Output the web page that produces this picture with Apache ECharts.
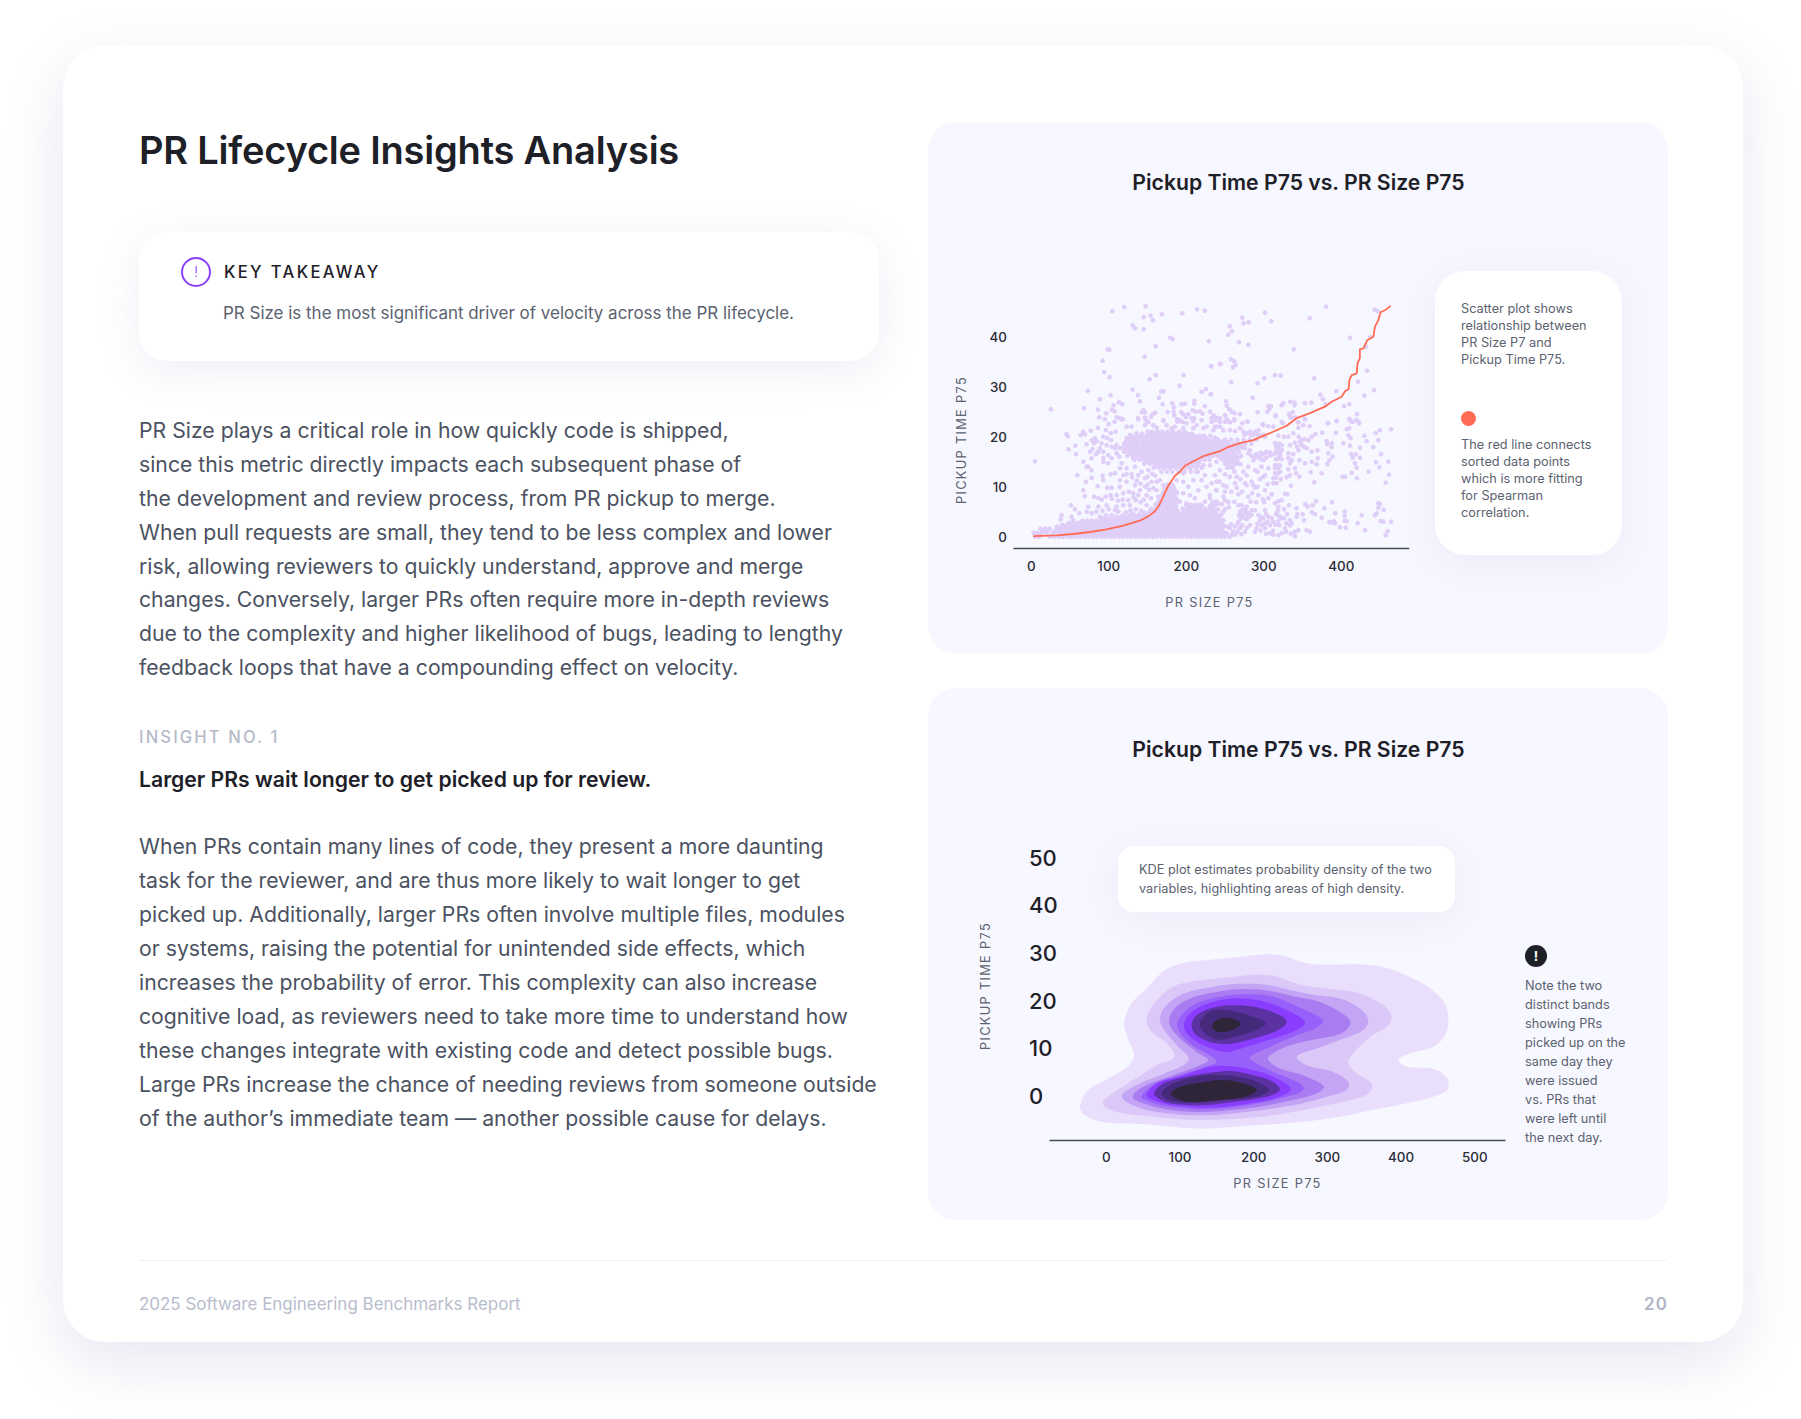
<!DOCTYPE html>
<html><head><meta charset="utf-8"><title>PR Lifecycle Insights Analysis</title>
<script src="https://cdn.jsdelivr.net/npm/echarts@6/dist/echarts.min.js"></script>
<style>
html,body{margin:0;padding:0;background:#fff;width:1801px;height:1419px;overflow:hidden;font-family:Inter,"Noto Sans",sans-serif;-webkit-font-smoothing:antialiased}
.a{position:absolute;white-space:nowrap}
#card{left:63px;top:45px;width:1680px;height:1297px;background:#fff;border-radius:42px;box-shadow:0 20px 60px rgba(84,96,160,.15)}
.panel{position:absolute;left:928px;width:740px;height:532px;background:#f7f7ff;border-radius:28px}
.callout{position:absolute;background:#fff;box-shadow:0 8px 40px rgba(90,100,170,.08)}
.body{color:#4b5261;font-size:21.23px;line-height:33.95px;left:139px}
.small{color:#5b6270;font-size:12.75px;line-height:17px}
.axt{color:#5b6270;font-size:12.8px;letter-spacing:1.3px;font-weight:400;transform:translate(-50%,-50%)}
.ptitle{color:#1e2028;font-size:21.2px;font-weight:600;transform:translate(-50%,-50%);left:1298.5px}
#chart{position:absolute;left:0;top:0;width:1801px;height:1419px;pointer-events:none}
</style></head><body>
<div id="card" class="a"></div>
<div class="a" style="left:139px;top:126px;font-size:38px;line-height:48px;font-weight:600;color:#1e2028;letter-spacing:-.2px">PR Lifecycle Insights Analysis</div>
<div class="a" style="left:139px;top:232px;width:740px;height:129px;background:#fff;border-radius:28px;box-shadow:0 10px 44px rgba(90,100,170,.10)"></div>
<div class="a" style="left:181px;top:257px;width:26px;height:26px;border:2px solid #8b3ffd;border-radius:50%;color:#8b3ffd;font-size:15px;font-weight:300;line-height:26px;text-align:center">!</div>
<div class="a" style="left:224px;top:262px;font-size:16.6px;line-height:21px;font-weight:500;color:#1e2028;letter-spacing:2.35px">KEY TAKEAWAY</div>
<div class="a" style="left:223px;top:302px;font-size:16.97px;line-height:23px;color:#5b6270">PR Size is the most significant driver of velocity across the PR lifecycle.</div>
<div class="a body" style="top:413.7px">PR Size plays a critical role in how quickly code is shipped,<br>since this metric directly impacts each subsequent phase of<br>the development and review process, from PR pickup to merge.<br>When pull requests are small, they tend to be less complex and lower<br>risk, allowing reviewers to quickly understand, approve and merge<br>changes. Conversely, larger PRs often require more in-depth reviews<br>due to the complexity and higher likelihood of bugs, leading to lengthy<br>feedback loops that have a compounding effect on velocity.</div>
<div class="a" style="left:139px;top:726px;font-size:16.6px;line-height:22px;font-weight:500;color:#b6bac9;letter-spacing:2.12px">INSIGHT NO. 1</div>
<div class="a" style="left:139px;top:765px;font-size:21.2px;line-height:28px;font-weight:600;color:#1e2028">Larger PRs wait longer to get picked up for review.</div>
<div class="a body" style="top:830.2px">When PRs contain many lines of code, they present a more daunting<br>task for the reviewer, and are thus more likely to wait longer to get<br>picked up. Additionally, larger PRs often involve multiple files, modules<br>or systems, raising the potential for unintended side effects, which<br>increases the probability of error. This complexity can also increase<br>cognitive load, as reviewers need to take more time to understand how<br>these changes integrate with existing code and detect possible bugs.<br>Large PRs increase the chance of needing reviews from someone outside<br>of the author’s immediate team — another possible cause for delays.</div>
<div class="a" style="left:139px;top:1259.5px;width:1527px;height:1px;background:#eeeef6"></div>
<div class="a" style="left:139px;top:1292.5px;font-size:16.95px;line-height:23px;color:#b8bdcd">2025 Software Engineering Benchmarks Report</div>
<div class="a" style="right:133px;top:1292.5px;font-size:16.9px;line-height:23px;font-weight:600;color:#b0b5c7;letter-spacing:1.2px">20</div>

<div class="panel" style="top:122px"></div>
<div class="panel" style="top:688px"></div>
<div class="a ptitle" style="top:182.3px">Pickup Time P75 vs. PR Size P75</div>
<div class="a ptitle" style="top:748.5px">Pickup Time P75 vs. PR Size P75</div>

<div class="callout" style="left:1435px;top:271px;width:187px;height:284px;border-radius:30px"></div>
<div class="a small" style="left:1461px;top:300px">Scatter plot shows<br>relationship between<br>PR Size P7 and<br>Pickup Time P75.</div>
<div class="a" style="left:1461px;top:411px;width:15px;height:15px;border-radius:50%;background:#ff6b55"></div>
<div class="a small" style="left:1461px;top:436px">The red line connects<br>sorted data points<br>which is more fitting<br>for Spearman<br>correlation.</div>

<div class="callout" style="left:1118px;top:846px;width:337px;height:66px;border-radius:16px"></div>
<div class="a small" style="left:1139px;top:860px;line-height:19.4px">KDE plot estimates probability density of the two<br>variables, highlighting areas of high density.</div>
<div class="a" style="left:1525px;top:944.5px;width:22px;height:22px;border-radius:50%;background:#1e2028;color:#fff;font-size:13px;font-weight:700;line-height:22px;text-align:center">!</div>
<div class="a small" style="left:1525px;top:976px;line-height:19.05px">Note the two<br>distinct bands<br>showing PRs<br>picked up on the<br>same day they<br>were issued<br>vs. PRs that<br>were left until<br>the next day.</div>

<div class="a axt" style="left:1209.5px;top:602px">PR SIZE P75</div>
<div class="a axt" style="left:961px;top:439.5px;transform:translate(-50%,-50%) rotate(-90deg)">PICKUP TIME P75</div>
<div class="a axt" style="left:1277.5px;top:1182.5px">PR SIZE P75</div>
<div class="a axt" style="left:984.5px;top:986px;transform:translate(-50%,-50%) rotate(-90deg)">PICKUP TIME P75</div>
<div id="chart"></div>
<script>
// Scatter x ticks / y ticks
const scatterXTicks=[0,100,200,300,400];
const scatterYTicks=[0,10,20,30,40];
const kdeXTicks=[0,100,200,300,400,500];
const kdeYTicks=[0,10,20,30,40,50];

// Red line through sorted points [PR size, pickup time]
const sortedLine=[[2.6,.1],[32.7,.27],[54,.54],[75.8,.94],[97,1.47],[118.7,2.2],[140,3.2],[151,4.07],[159.6,5.1],[165,6.3],[170.3,8],[176.8,10.2],[185.4,12.2],[191.9,13],[198.3,14.2],[209,15.1],[222,16.1],[243.5,17.1],[252,17.8],[269.3,18.7],[286.5,19.3],[308,20.7],[329.5,22.2],[342.4,23.7],[359.6,24.7],[379,26],[387.6,27],[394,27.5],[400.5,28],[404.8,29.1],[409.5,29.5],[410.4,31.3],[413.4,32.3],[419.8,32.6],[421,34.7],[424,35.7],[424,37.5],[428.4,37.6],[433.6,39.3],[441.4,40],[443.5,42],[447.8,43.3],[450.8,44.9],[458.6,45.5],[463.7,46.2]];

// Sparse scatter points read by region
const pointsUpperLeft=[[25.4,25.5],[68,25.7],[73,29.2],[88.6,27.5],[86,25.4],[102.4,28.3],[92,35.2],[94.2,32.9],[101,31.9],[98.5,37.5],[100.6,37.4],[104.5,45.1],[120,45.9],[147.5,46.1],[145,43.9],[154,44.2],[157,43.3],[130.8,42.3],[133.8,41.7],[145,41.5],[168.6,44.5],[179.4,39.8],[182.4,39.5],[194.8,44.7],[213.8,45.5],[224,45.2],[229.2,39.1],[232.3,34.1],[243.4,34.6],[160.4,38.1],[146.2,36],[152.7,31.5],[160.4,32.3],[196.6,32.3],[191.4,30.2],[130.8,29.4],[137.6,28.3],[140.2,27.1],[164.7,27.8],[167.7,29],[170.8,29.1],[169.5,26.5],[182,26.7],[184,25.9],[194,26.5],[198.3,26.6],[210.3,27.2],[210.3,26.6],[219.8,29],[225.4,29.5],[231.8,28.5],[224,26.1],[113,26.9],[117.4,26.5],[106.2,26.3],[104,25.4],[107.5,25.1],[96.8,24.7],[87.7,23.9],[95,23.5],[110.5,23.9],[116.6,23.5],[118.3,23.5],[107.5,23],[99.8,22.5],[137.6,23.7],[145,25.3],[142.4,24.9],[146.7,24.9],[147,23.7],[148.8,23.2],[154.4,24],[156.6,24.5],[160,24.8],[170.8,23.2],[176,24.9],[183.7,25],[184.5,24.3],[188.4,23.5],[193.5,24.9],[196,24.5],[202.6,24.5],[199.6,23.9],[188.4,23],[195.3,22.9],[208.2,25.3],[212,25],[217.6,25.1],[221,24.6],[230.5,25],[235.7,24.2],[239,23.7],[234,23.1],[243.4,23],[208.6,23.1],[210,23.7]];
const pointsUpperRight=[[301.6,44.8],[380.3,46],[272.3,43.8],[274,42.7],[280.5,42.9],[309.7,43.1],[359.2,43.7],[256,42.1],[259,41.1],[254.3,40.4],[268,38.9],[280,38.4],[338.6,37.5],[411.2,39.8],[437.5,39.9],[431.9,38],[443,45.4],[447,45.1],[257.7,35.5],[262,35.1],[263.7,34.4],[260.3,33.9],[244.4,34.5],[231.9,34.1],[300.7,31.7],[292,30.7],[314.5,32.3],[321.8,32.2],[365.2,31.7],[258.1,30.9],[421.6,31],[433.2,33.2],[442.2,29.3],[429.7,28.2],[393.6,29.1],[373,28.4],[376.4,27.5],[285.7,27.8],[231.9,28.5],[251.2,27.1],[252.1,26.2],[255.5,25.5],[258.6,25],[269.3,24.5],[262.4,24.7],[292.1,24.9],[305.9,26.1],[309.3,26.1],[307.2,25.5],[304.6,25],[315.3,24.1],[334.3,27],[339.8,26.8],[339.8,26.3],[325.2,26.7],[323.1,26.3],[353.2,26.7],[361.4,26.8],[379.9,26.5],[403.5,26.1],[410.4,26.5],[420.3,24.5],[332.5,24.5],[337.3,24.9],[335.1,23.8],[340.7,23.9],[353.2,23.6],[344.1,22.9],[262,23.5],[272.3,22.7],[278.8,23],[256.4,22.9],[298.6,22.5],[324.8,22.7],[382.9,22.7],[394,23.1],[410.4,23.5],[414.7,23],[419.8,23.3],[422.9,22.7],[239.2,23.7],[243.5,23.7],[234.9,24.3],[250,24.3],[243.5,23],[232.8,23.7],[252.1,23.5]];
const pointsLowerLeft=[[4.7,15.1],[45.6,20.5],[47,20.1],[48.2,17.5],[56.8,18.2],[57.6,16.5],[59.4,12.3],[63.7,20.3],[67,21],[69.3,20.5],[76.6,21.2],[71.4,18.5],[78.3,19.3],[80.9,18.7],[84.3,19.1],[86,21.8],[92.9,20],[96.3,21.3],[102.4,20.7],[108.8,21],[98,19.7],[103.2,19.3],[88.6,17.7],[79.1,17.5],[75.7,17],[67.1,15],[71.4,14],[77.8,15.7],[83.4,16.5],[92.9,15.8],[99.4,16.3],[99.4,14.7],[110.1,16.7],[113.5,16],[116.6,14.7],[114.4,13.7],[108,12.7],[102.4,12.5],[92,12.2],[92.9,11.3],[77.8,11.8],[70.5,11],[67,9.3],[69,8.1],[85.6,10.1],[98,9.8],[103.6,9.8],[80.9,8],[86.5,7.7],[102.4,8.3],[97.2,6.3],[86.5,6],[73.5,6],[71.4,5],[77.8,4.7],[51.2,6.3],[56.3,5.5],[61.9,4.7],[39.1,4.3],[37.8,3.5],[52,4],[54.2,3.3],[88.6,4],[96.3,4.3],[110.1,6],[118.7,6.3],[127.3,6.3],[135,7.3],[141,6.9],[148.8,6.3],[131.6,8.7],[140.2,9.3],[148.8,8.3],[154.4,7.7],[161.7,9.3],[163.9,8],[157.4,9.7],[170.3,10.3],[166,11.3],[155.3,11],[146.7,11.7],[138,12.3],[129.5,12.5],[123,12.5],[142.4,13],[133.8,14],[123,13.7],[151,13.3],[159.6,14.7],[170.3,14],[131.6,15.7],[146.7,15],[114.4,10],[118.7,8.7],[125.2,7.3],[110.1,8.3],[123,11],[133.8,10.3],[138,8.3],[114.4,11.3],[118.7,12.3],[174.6,14.3],[118.7,4.3],[112.3,5],[103.6,4.3],[196,11],[202.6,10],[209,11.3],[215.5,9.3],[196,8.7],[204.7,8.3],[211.2,7.7],[219.8,11.3],[230.5,8.3],[239,9.3],[224,12.3],[237,12.3],[226.2,10],[232.7,10.7],[224,7],[219.8,6.2],[230.5,5.7],[237,7],[200.4,6.7],[187.5,8.7],[191.8,7],[239,11],[213.3,13],[204.7,13.7],[230.5,14.3],[243.4,13.3],[239,15],[222,14.3],[196,12.7],[187.5,11.3],[114.4,23.7],[123,22],[129.5,22],[138,23.5],[146.7,23.8],[151,22.9],[157.4,22.3],[170.3,23.3],[174.6,22.3],[185.4,22],[191.9,23.3],[200.4,22.7],[206.8,23.7],[213.3,22.3],[219.8,23.3],[226.2,22],[232.7,23],[239,22],[146.7,22.3],[161.7,21.8],[181,21.7],[196.1,21.7],[209,21.7],[222,21.7],[234.9,21.3],[127.3,20.3],[135.9,20.7],[123,19.7]];
const pointsLowerRight=[[278.8,23],[299.4,22.3],[305.9,22.1],[312.3,22],[315.3,24.3],[323,23],[333.8,24],[344.6,22.9],[344.6,21.8],[351,22.3],[359.2,22.1],[353.2,23.5],[382.9,22.7],[394,23.2],[393.2,20.8],[375.5,20.8],[366.5,20.5],[361.8,20],[357.5,19.3],[348.9,19.3],[346.7,19],[351.9,18],[355.3,17.7],[361.8,17],[369.1,17.3],[369.5,15.7],[361.8,15],[368.2,14.5],[353.2,14.7],[345.9,15.3],[344.6,17.3],[338.1,16.5],[340.3,13.7],[331.7,13.5],[345.9,12],[341.6,12.7],[333.8,12.3],[329.5,11.9],[335.1,10.2],[360.5,12.9],[374.7,12.7],[365.2,10.9],[381.1,19.1],[382,18.5],[387.6,18.7],[387.6,17.9],[383.3,16.7],[388.9,16],[384.6,15.3],[382,14.5],[402.6,18.7],[411.2,18.2],[407,21.5],[410.4,21.7],[409.1,20.3],[412.1,19.7],[410.4,23.5],[413.4,23],[419.8,23.3],[422.9,22.9],[429.7,20.2],[432.7,19.1],[444.4,20.7],[450,21.3],[464.2,21.5],[447.8,19.3],[441.4,17.9],[424.1,17.8],[413,16.5],[418.6,16.5],[414.7,15.8],[424.1,15.8],[417.7,14.7],[419.8,13.8],[413.4,12.8],[420.3,11.7],[435.3,13],[444.8,14.9],[449.1,13.9],[451.3,16.5],[460.7,15],[461.6,12.4],[457.3,10.8],[401.8,12],[404.8,12],[447.8,6.7],[450,6.5],[447.8,5.8],[454.7,5.4],[443.5,4.3],[445.7,4.7],[426.3,4.3],[450.8,3.1],[454.3,3],[464.2,3],[459.8,1.1],[457.3,.3],[430.6,1.3],[421.1,2.7],[405.6,1.8],[398.3,1.9],[391.9,2.7],[390.6,3.1],[387.6,2.9],[384.6,2.9],[404.4,5],[404.4,4.2],[404.4,3.2],[407,3.1],[392.3,4.7],[388,6.9],[378.1,5.7],[374.7,3.8],[367.4,7.1],[363,6.3],[353.6,6.5],[356.6,6],[362.2,4.9],[366.1,4.5],[350.2,4.5],[351.9,3.3],[343.3,4.5],[342.4,5.7],[342.4,4],[355.3,1.3],[359.6,1],[344.6,1.3],[340.3,1],[340.3,.1],[330.4,8.5],[327.4,8.6],[293,8.3],[301.6,9.3],[310.2,8.5],[300.7,6.9],[290,6.9],[277.9,6],[271.5,6.3],[267.2,6.3],[254.3,6.9],[250,5.5],[255.1,5.9],[252.1,10],[250,9],[247.8,10.3],[238.3,9.3],[262.9,10.7],[265,9.8],[267.2,8.5],[275.8,10.7],[277.9,10.3],[286.5,10.3],[288.7,9.8],[301.6,12.3],[305.9,13.7],[299.4,12],[284.4,11],[273.6,13],[277.9,12.3],[288.7,13.3],[314.5,14.3],[318.8,14.3],[314.5,13.7],[318.8,13.7],[314.5,12.7],[318.8,12.7],[312.3,11.7],[316.6,10.7],[312.3,10.7],[318.8,17.7],[323.1,17.3],[316.6,16.7],[320.9,16.3],[318.8,15.7],[323.1,18.3],[314.5,18.7],[333.8,18.3],[331.7,16.7],[331.7,15.7],[336,15.3],[333.8,14.7],[301.6,16.7],[308,16.9],[297.3,16.3],[293,16],[286.5,15.3],[299.4,15.3],[280,16.7],[282.2,17.3],[275.8,17.7],[269.3,18],[262.9,17.3],[277.9,20.7],[282.2,21],[273.6,21],[288.7,21],[293,21.3],[286.5,20.3],[295.1,20.3],[301.6,20],[318.8,20.2],[326.1,20],[331.7,20],[338.1,20.7],[269.3,21.7],[262.9,21.1],[256.4,21.3],[247.8,21.3],[255.1,23],[262,23.3],[250,23],[239.2,23.3],[243.5,22],[237,22],[318.8,7.1],[323.1,7.3],[314.5,6.7],[305.9,7.7],[332.5,6.3],[326.1,5.5],[318.8,6],[320,4.1],[323.1,3.7],[318.8,3.1],[326.1,3.7],[333.8,3.3],[333.8,2.3],[336,2.7],[320,2.3],[323.1,.7],[318.8,.3],[327.4,1.7],[308,.7],[301.6,1.7],[295.1,3.3],[299.4,3.7],[293,4.3],[301.6,5.3],[305.9,4],[310.2,3.7],[290.8,1.7],[288.7,1],[297.3,2.3],[301.6,2.7],[308,2.3],[280,4.3],[275.8,4.7],[271.5,4.3],[277.9,3.5],[269.3,5],[284.4,5.3],[288.7,5.3],[267.2,3],[262.9,2],[256.4,1.7],[252.1,.7],[260.7,1],[269.3,1.7],[275.8,1],[282.2,2.3],[247.8,5],[239.2,7],[234.9,5.7],[230.6,4.3],[239.2,4.3],[234.9,3],[241.4,2.3],[230.6,2.3],[237,1.3],[243.5,1],[232.8,.7],[239.2,.3],[230.6,7.7],[237,6.3],[235.8,5]];
const pointsClusters=[[82,19.7],[90.7,18.7],[97.2,18.3],[103.7,18],[110,18.3],[86.5,17],[93,17],[108,17.7],[114.4,17.7],[103.7,15.7],[93,15],[73.5,14],[77.8,13.3],[130,11.9],[136,11.2],[141,10.6],[147,10],[152,9.4],[126,9],[132,7.9],[145,7.4],[150,12],[156,12.6],[160,12.2],[162,11],[150,10.4],[128,5.3],[135,5.5],[142,5.2],[112,7.2],[118,7.4],[104,7.6],[96,8],[91,7.4],[84,5],[92,5.2],[108,5.3],[100,5.5],[122,4.9],[130,4.7],[233,1.5],[240,1.9],[246,2.6],[250,2.1],[233,3.7],[242,3.5],[248,3.3],[232,5],[241,5.5],[245,4.4],[234,6.9],[241,6.6],[231,6.2],[246,6.5],[250,7.3],[254,2],[258,2.5],[263,.4],[266,1],[271,.5],[272,2.3],[266,2.5],[278,1.8],[258,.3],[270,3.6],[274,3.8],[279,4.8],[272,5.3],[276,5.5],[281,4],[284,4.4],[268,4.3],[292,2.6],[296,1.2],[303,.6],[312,1.2],[315,2.4],[312,3],[316,4.5],[330,4.5],[329,2.7],[329,1],[335,.6],[312,.4],[296,4],[305,3],[318,5.2],[303,4.5],[284,16.2],[290,16.5],[296,16.8],[303,17],[288,15.7],[295,15.6],[303,15.8],[308,16.3],[312,16.5],[316,18],[320,18.6],[316,17.2],[321,17],[316,15.5],[323,15.5],[321,14.2],[321,13],[322,11.5],[316,11.8],[352,19.5],[349,18.3],[343,18],[340,18.8],[345,20],[256,12],[262,13],[265,12],[270,11.5],[258,9],[272,9],[280,8],[283,7],[295,11.5],[292,10],[305,10.5],[299,7.5],[285,8.7],[262,7],[248,8],[243,11],[250,12.5],[256,14],[263,14.5],[270,14.5],[280,14],[292,13],[297,14]];

// Dense clusters: each row is [pickup time, PR sizes...]
const denseUpperRows=[
[21,150,156,163,169,176,183,191,198],
[20.6,143,153,160,166,173,179,188,194,201,207],
[20.2,130,137,143,149,155,160,167,173,180,185,191,198,204,210,217,223,231],
[19.8,127,134,140,146,152,158,164,170,176,182,188,194,200,207,213,219,225,237],
[19.4,124,131,136,143,149,154,161,166,173,179,185,191,196,203,209,215,221,228,234,241,250,258,266,274,282,290],
[19,122,129,136,142,148,153,159,165,171,177,183,189,194,201,207,213,219,226,232,238,245,252],
[18.6,120,127,132,139,145,151,156,163,168,175,180,187,192,199,205,210,217,223,229,236,242,248,255,262,268,276,284],
[18.2,123,129,135,142,148,154,159,165,171,178,184,190,195,202,208,213,220,226,232,238,244,251,257,265,271],
[17.8,118,125,131,136,143,149,155,160,167,173,179,185,190,197,203,209,215,221,228,234,240,246,253,259,266,273],
[17.4,122,128,135,141,147,153,158,165,170,177,183,188,195,201,207,213,219,226,231,238,244,250,256,263],
[17,120,126,133,138,145,151,156,163,168,175,181,187,192,199,205,211,216,223,229,235,241,247,254,261,268],
[16.6,128,135,141,146,153,158,165,171,177,182,189,194,201,207,213,219,225,232,238,244,250,256,262],
[16.2,124,131,137,143,149,154,161,167,173,179,184,191,197,203,209,215,222,228,234,240,246,252,258,264,271],
[15.8,135,143,149,155,161,167,173,179,186,192,198,205,211,217,223,244,250,256,262,268],
[15.4,133,140,146,151,158,164,170,176,182,188,194,200,206,212,218,224,230,247,253,259,265],
[15,150,156,162,168,175,181,187,193,199,205,211,217,253,259,265],
[14.6,146,153,159,165,172,178,184,190,196,202,208,214,250,256,262,268],
[14.2,162,169,176,182,189,195,201,208,215,255],
[13.8,158,165,172,179,186,192,198,205,212,220,253,260],
[13,168,175,182,190,198,206,215],
[20.4,275,283,292,300]];
const denseLowerRows=[
[0,5,10,24,30,36,41,47,52,58,63,69,74,80,85,91,96,102,107,113,118,124,129,135,140,146,151,157,162,168,173,179,184,190,195,201,206,212,217,223,228,234,239,245,250,256],
[.4,6,12,27,33,38,44,49,55,60,66,71,77,82,88,93,99,104,110,115,121,126,132,137,143,148,154,159,165,170,176,181,187,192,198,203,209,214,220,225,231,236,242,248],
[.8,3,8,14,20,28,34,39,45,50,56,61,67,72,78,83,89,94,100,105,111,116,122,127,133,138,144,149,155,160,166,171,177,182,188,193,199,204,210,215,221,226,232,237,243,249],
[1.2,15,21,31,37,42,48,54,59,65,70,76,81,87,92,98,103,109,114,120,125,131,136,142,147,153,158,164,169,175,180,186,191,197,202,208,213,219,224,230,236,242],
[1.6,12,18,24,36,42,48,53,59,64,70,75,81,86,92,97,103,108,114,119,125,130,136,141,147,152,158,163,169,174,180,185,191,196,202,207,213,218,224,229,235,240,246],
[2,33,39,45,51,56,62,67,73,79,84,90,95,101,107,112,118,123,129,135,140,146,151,157,163,168,174,179,185,191,197,202,208,214,220,225,231,237,244],
[2.4,40,46,52,58,64,70,76,82,88,94,100,106,112,118,124,130,136,142,148,154,160,166,172,178,184,190,196,202,208,214,220,226,232,238,244],
[2.8,49,55,61,67,73,79,85,91,97,103,109,115,121,127,133,139,145,151,157,163,169,175,181,187,193,199,205,211,217,223,229,235,241],
[3.2,66,72,78,84,90,96,102,108,114,120,126,132,138,144,150,156,162,168,174,180,186,192,198,204,210,216,222,228,234,240,246],
[3.6,93,99,105,111,117,123,129,135,141,147,153,159,165,171,177,183,189,195,201,207,213,219,225,231,237,243],
[4,110,116,122,128,134,140,146,152,158,164,170,176,182,188,194,200,206,212,218,224,230,236,242],
[4.4,127,133,139,145,151,157,163,169,175,181,187,193,199,205,211,217,223,229,235],
[4.8,146,152,158,164,170,176,182,190,196,202,208,214,220,226,232,238],
[5.2,153,158,164,170,176,182,188,198,204,210,216,222,228],
[5.6,155,161,167,173,179,185,195,201,207,213,219,225,231],
[6,163,169,175,181,187,203,209,215],
[6.4,160,166,172,178,184,200,206,212,218],
[6.8,163,169,175,181,187],
[7.2,165,171,177,183,189],
[7.6,169,175,181,187],
[8,167,173,179,185],
[8.4,171,177,183],
[8.8,170,176,182,188],
[9.2,174,180,186],
[9.6,172,178,184],
[10,177,183],
[10.4,176,182]];

// KDE contour outlines [PR size, pickup time], outer to inner
const kdeLevel1=[[-35.7,-2.3],[-24.4,1.2],[.5,3.4],[28.5,6.1],[37.5,8.5],[28.5,12.4],[24.4,15.5],[34.4,19.4],[54.7,22.5],[79.6,26.4],[104.5,27.9],[145.2,28.6],[190.4,29.3],[222.1,29.7],[244.7,29.2],[267.3,28],[294.4,27.5],[344.2,27.6],[380.4,26.8],[416.6,24.6],[448.2,21.4],[462.7,18],[460.9,13.1],[443.7,10.3],[412,8.9],[396.2,7.5],[407.5,6.1],[443.7,5.6],[462.7,3.6],[462.7,1.2],[443.7,-.2],[407.5,-1.6],[371.3,-2.7],[317,-4.4],[262.8,-5.5],[181.4,-6.4],[122.6,-6.9],[54.7,-6],[-4.1,-5.5],[-28.9,-4.1]];
const kdeLevel2=[[-5,-1.3],[5,.1],[36.6,3.3],[68.3,6.4],[92.3,8.2],[81.9,11],[63.8,13.1],[54.7,15.5],[61.5,18.7],[90.9,22.9],[131.6,24.3],[167.8,24.9],[204,25.4],[231.1,25],[262.8,23.3],[299,22.5],[344.2,21.5],[375.8,19],[387.2,16.6],[380.4,14.5],[357.8,12.4],[335.1,8.9],[328.4,7.1],[339.7,4.7],[360,2.6],[357.8,.8],[339.7,-.6],[299,-2],[253.7,-3.4],[199.5,-4.6],[127.1,-5.1],[63.8,-4.4],[14,-3.4],[-1.8,-2.3]];
const kdeLevel3=[[20.8,-.2],[36.6,1.9],[72.8,4.3],[104.5,6.4],[112.2,7.8],[100,9.9],[81.9,13.1],[72.8,15.9],[79.6,18.7],[104.5,21.4],[145.2,22.9],[181.4,23.5],[217.5,23.3],[249.2,22.2],[285.4,21.1],[317,20.4],[344.2,18.3],[355.5,15.9],[348.7,13.8],[317,11.7],[285.4,9.9],[258.3,8.2],[271.8,6.4],[308,5],[328.4,2.9],[326.1,1.2],[299,-.2],[253.7,-2],[199.5,-3.2],[136.1,-4.1],[81.9,-3.7],[41.2,-2.3]];
const kdeLevel4=[[35.7,-.2],[50.2,1.9],[90.9,4.3],[127.1,6.4],[138.4,7.5],[122.6,9.2],[97.7,12.4],[85.5,15.2],[90.9,18],[113.5,20.4],[149.7,21.8],[185.8,22.4],[222.1,22],[253.7,20.9],[289.8,19.7],[323.8,16.9],[331.4,15.2],[319.2,13.1],[289.8,12],[249.2,10.6],[222.1,8.5],[219.8,7.5],[235.6,5.7],[271.8,4],[295.3,1.9],[285.4,.5],[253.7,-.9],[199.5,-2.5],[136.1,-3.4],[86.4,-3],[50.2,-1.6]];
const kdeLevel5=[[47.9,-.2],[63.8,2.2],[100,4.3],[138.4,6.3],[149.7,7.1],[142.9,8.2],[113.5,11],[96.3,14.5],[102.2,16.9],[122.6,19.4],[158.7,20.9],[190.4,21.3],[226.6,20.8],[262.8,18.5],[293.5,15.9],[283.1,14.1],[253.7,12.4],[217.5,9.9],[194.9,8],[204,6.8],[226.6,5],[262.8,2.6],[267.3,1.2],[244.7,-.2],[199.5,-1.8],[136.1,-2.9],[86.4,-2.3],[59.3,-1.3]];
const kdeLevel6Top=[[105.4,14.5],[111.3,16.9],[131.6,19],[167.8,20.4],[208.5,20],[244.7,18],[269.5,15.5],[258.3,13.8],[226.6,12],[190.4,10.3],[163.3,9.2],[136.1,10.3],[113.5,12.4]];
const kdeLevel6Bottom=[[54.7,.1],[68.3,2.6],[104.5,4.3],[140.6,6.1],[167.8,6.2],[199.5,5.4],[226.6,4],[250.5,1.5],[235.6,-.2],[199.5,-1.5],[145.2,-2.5],[90.9,-2],[63.8,-.9]];
const kdeLevel7Top=[[115.7,14.5],[120.3,16.6],[140.6,18.3],[167.8,19],[204,18.6],[235.6,16.9],[244.7,15.5],[233.3,13.8],[199.5,12],[167.8,10.9],[140.6,11.3],[122.6,12.7]];
const kdeLevel7Bottom=[[64.7,.5],[77.3,2.6],[109,4],[140.6,4.8],[167.8,5.2],[199.5,4.3],[226.6,2.9],[235.6,1.2],[217.5,-.2],[172.3,-1.3],[127.1,-2],[86.4,-1.6],[70.6,-.6]];
const kdeLevel8Top=[[127.1,14.8],[131.6,16.6],[145.2,18],[167.8,17.9],[199.5,16.6],[216.6,15.2],[204,13.8],[172.3,12.3],[149.7,11.8],[133.8,13.1]];
const kdeLevel8Bottom=[[75.1,.5],[90.9,2.6],[122.6,4],[158.7,4.3],[190.4,3.6],[217.5,1.9],[221.1,1.1],[204,-.2],[163.3,-.9],[113.5,-1.5],[84.1,-.9]];
const kdeLevel9Top=[[143.3,14.8],[151.9,16],[165.5,16.4],[179.1,15.7],[182.7,15],[172.3,13.9],[158.7,13.4],[147.4,13.7]];
const kdeLevel9Bottom=[[87.7,.5],[99.9,1.9],[127.1,2.7],[154.2,3.3],[181.4,2.8],[204,1.3],[190.4,-.1],[154.2,-.9],[113.5,-1.3],[95.4,-.6]];

const kdeColors=['#e9defc','#dcc8f8','#c4a4f4','#a97df1','#9860fb','#8a3dfe','#5c32a3','#45297a','#2e2538'];
const kdeRings=[[kdeLevel1,0],[kdeLevel2,1],[kdeLevel3,2],[kdeLevel4,3],[kdeLevel5,4],[kdeLevel6Top,5],[kdeLevel6Bottom,5],[kdeLevel7Top,6],[kdeLevel7Bottom,6],[kdeLevel8Top,7],[kdeLevel8Bottom,7],[kdeLevel9Top,8],[kdeLevel9Bottom,8]];

const expand=rows=>rows.flatMap(r=>r.slice(1).map(x=>[x,r[0]]));
const scatterData=[...pointsUpperLeft,...pointsUpperRight,...pointsLowerLeft,...pointsLowerRight,...pointsClusters,...expand(denseUpperRows),...expand(denseLowerRows)];

const font='Inter, "Noto Sans", sans-serif';
const tickStyle={color:'#2a2c36',fontFamily:font,fontWeight:500,fontSize:13.4};
const chart=echarts.init(document.getElementById('chart'),null,{renderer:'svg'});
chart.setOption({
  animation:false,
  backgroundColor:'transparent',
  grid:[
    {left:1014,top:296.7,width:394.7,height:252},
    {left:1050,top:848.2,width:455,height:292.5}
  ],
  xAxis:[
    {type:'value',gridIndex:0,min:-22.3,max:487,splitLine:{show:false},axisTick:{show:false},
     axisLine:{onZero:false,lineStyle:{color:'#4a4d57',width:1.4}},
     axisLabel:{...tickStyle,margin:11,customValues:scatterXTicks}},
    {type:'value',gridIndex:1,min:-76.4,max:541,splitLine:{show:false},axisTick:{show:false},
     axisLine:{onZero:false,lineStyle:{color:'#4a4d57',width:1.4}},
     axisLabel:{...tickStyle,margin:10,customValues:kdeXTicks}}
  ],
  yAxis:[
    {type:'value',gridIndex:0,min:-2.4,max:48,splitLine:{show:false},axisTick:{show:false},axisLine:{show:false},
     axisLabel:{...tickStyle,margin:7,customValues:scatterYTicks}},
    {type:'value',gridIndex:1,min:-9.45,max:52,splitLine:{show:false},axisTick:{show:false},axisLine:{show:false},
     axisLabel:{color:'#1e2028',fontFamily:font,fontWeight:500,fontSize:22,margin:21,align:'left',padding:[0,0,2,0],customValues:kdeYTicks}}
  ],
  series:[
    {name:'PR scatter',type:'scatter',xAxisIndex:0,yAxisIndex:0,data:scatterData,symbolSize:4.7,
     itemStyle:{color:'#dfcef8',opacity:1},silent:true,large:false,clip:false},
    {name:'Sorted line',type:'line',xAxisIndex:0,yAxisIndex:0,data:sortedLine,showSymbol:false,smooth:false,
     lineStyle:{color:'#ff6b55',width:1.8},silent:true,clip:false},
    ...kdeRings.map(([ring,level],i)=>({
      name:'KDE level '+(level+1),type:'custom',xAxisIndex:1,yAxisIndex:1,data:ring,silent:true,z:2+i,clip:false,
      encode:{x:0,y:1},
      renderItem:(p,api)=>p.dataIndex!==0?null:({
        type:'polygon',
        shape:{points:ring.map(d=>api.coord(d)),smooth:0.35},
        style:{fill:kdeColors[level]}
      })
    }))
  ]
});
</script>
</body></html>
